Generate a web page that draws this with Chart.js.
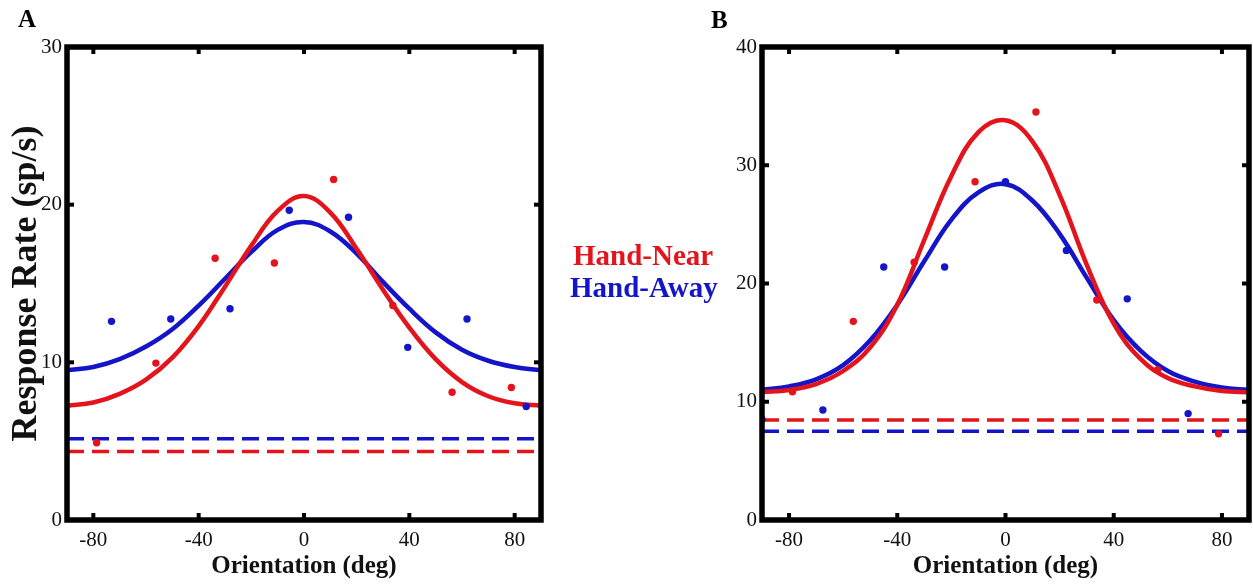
<!DOCTYPE html>
<html>
<head>
<meta charset="utf-8">
<title>Orientation tuning</title>
<script src="https://cdn.jsdelivr.net/npm/chart.js@4.4.1/dist/chart.umd.min.js"></script>
<style>
  body { margin: 0; background: #fff; }
  #wrap { position: relative; width: 1253px; height: 586px; overflow: hidden; }
  canvas { position: absolute; top: 0; }
  #chartA { left: 0; }
  #chartB { left: 700px; }
  .lbl { position: absolute; font-family: "Liberation Serif", "DejaVu Serif", serif; font-weight: bold; white-space: nowrap; line-height: 1; }
</style>
</head>
<body>
<div id="wrap">
  <canvas id="chartA" width="560" height="586"></canvas>
  <canvas id="chartB" width="553" height="586"></canvas>
  <div class="lbl" style="left:18px;top:6px;font-size:25px">A</div>
  <div class="lbl" style="left:711px;top:7px;font-size:25px">B</div>
  <div class="lbl" style="left:573px;top:241px;font-size:29px;color:#e3141b">Hand-Near</div>
  <div class="lbl" style="left:570px;top:273px;font-size:29px;color:#1414c8">Hand-Away</div>
</div>
<script>
// orientation grid used for the fitted tuning curves
const fitX = [-90, -80, -70, -60, -50, -40, -30, -20, -10, 0, 10, 20, 30, 40, 50, 60, 70, 80, 90];

// panel A
const nearFitA = [7.25, 7.45, 8.0, 8.9, 10.3, 12.3, 14.8, 17.4, 19.6, 20.55, 19.5, 17.2, 14.6, 12.2, 10.2, 8.75, 7.85, 7.4, 7.25];
const awayFitA = [9.5, 9.7, 10.2, 11.0, 12.1, 13.6, 15.3, 17.0, 18.4, 18.9, 18.3, 16.9, 15.1, 13.4, 11.9, 10.8, 10.1, 9.7, 9.5];
const nearOriA = [-78.75, -56.25, -33.75, -11.25, 11.25, 33.75, 56.25, 78.75];
const nearRateA = [4.9, 9.95, 16.6, 16.3, 21.6, 13.6, 8.1, 8.4];
const awayOriA = [-73.1, -50.6, -28.1, -5.6, 16.9, 39.4, 61.9, 84.4];
const awayRateA = [12.6, 12.75, 13.4, 19.65, 19.2, 10.95, 12.75, 7.2];
const nearBaseA = 4.35;
const awayBaseA = 5.15;

// panel B
const nearFitB = [10.8, 11.0, 11.5, 12.6, 14.6, 18.2, 23.7, 29.1, 32.8, 33.8, 32.0, 27.5, 21.6, 16.6, 13.6, 12.0, 11.3, 10.9, 10.8];
const awayFitB = [11.0, 11.3, 11.9, 13.1, 15.2, 18.2, 21.9, 25.4, 27.7, 28.4, 27.0, 24.2, 20.5, 16.9, 14.3, 12.6, 11.7, 11.2, 11.0];
const nearOriB = [-78.75, -56.25, -33.75, -11.25, 11.25, 33.75, 56.25, 78.75];
const nearRateB = [10.85, 16.8, 21.8, 28.6, 34.5, 18.6, 12.7, 7.3];
const awayOriB = [-90, -67.5, -45, -22.5, 0, 22.5, 45, 67.5];
const awayRateB = [8.5, 9.3, 21.4, 21.4, 28.6, 22.8, 18.7, 9.0];
const nearBaseB = 8.45;
const awayBaseB = 7.5;

const xTicks = [-80, -40, 0, 40, 80];
const yTicksA = [0, 10, 20, 30];
const yTicksB = [0, 10, 20, 30, 40];

const RED = '#e3141b';
const BLUE = '#1414c8';
const serif = '"Liberation Serif", "DejaVu Serif", serif';

function pairs(xs, ys) {
  return xs.map((x, i) => ({ x: x, y: ys[i] }));
}

// thick black box with short inward ticks on all four sides
const frame = {
  id: 'frame',
  afterDatasetsDraw(chart) {
    const { ctx, chartArea: a, scales } = chart;
    ctx.save();
    ctx.strokeStyle = '#000';
    ctx.lineWidth = 5.5;
    ctx.strokeRect(a.left, a.top, a.right - a.left, a.bottom - a.top);
    ctx.fillStyle = '#000';
    scales.x.ticks.forEach(t => {
      const px = scales.x.getPixelForValue(t.value);
      ctx.fillRect(px - 2, a.bottom - 7, 4, 5);
      ctx.fillRect(px - 2, a.top + 2, 4, 5);
    });
    scales.y.ticks.forEach(t => {
      const py = scales.y.getPixelForValue(t.value);
      ctx.fillRect(a.left + 2, py - 2, 5, 4);
      ctx.fillRect(a.right - 7, py - 2, 5, 4);
    });
    ctx.restore();
  }
};

function makePanel(id, p) {
  const curve = { type: 'line', borderWidth: 4.5, pointRadius: 0, tension: 0.4 };
  const dashed = { type: 'line', borderWidth: 3.5, borderDash: [17, 8], pointRadius: 0, order: 3 };
  const datasets = [
    { type: 'scatter', data: pairs(p.nearOri, p.nearRate), backgroundColor: RED, borderWidth: 0, pointRadius: 3.7, order: 0 },
    { type: 'scatter', data: pairs(p.awayOri, p.awayRate), backgroundColor: BLUE, borderWidth: 0, pointRadius: 3.7, order: 0 },
    Object.assign({}, curve, { data: pairs(fitX, p.nearFit), borderColor: RED, order: 1 }),
    Object.assign({}, curve, { data: pairs(fitX, p.awayFit), borderColor: BLUE, order: 2 }),
    Object.assign({}, dashed, { data: pairs([-90, 90], [p.nearBase, p.nearBase]), borderColor: RED }),
    Object.assign({}, dashed, { data: pairs([-90, 90], [p.awayBase, p.awayBase]), borderColor: BLUE })
  ];

  return new Chart(document.getElementById(id), {
    type: 'line',
    data: { datasets: datasets },
    options: {
      responsive: false,
      animation: false,
      devicePixelRatio: 1,
      layout: { padding: { top: 47, right: p.padRight, left: 0, bottom: 0 } },
      plugins: { legend: { display: false }, tooltip: { enabled: false } },
      scales: {
        x: {
          type: 'linear',
          min: -90,
          max: 90,
          afterBuildTicks: s => { s.ticks = xTicks.map(v => ({ value: v })); },
          afterFit: s => { s.height = 66; },
          grid: { display: false, drawTicks: false },
          border: { display: false },
          ticks: { color: '#111', padding: 8, font: { family: serif, size: 21 } },
          title: {
            display: true,
            text: 'Orientation (deg)',
            color: '#111',
            padding: { top: 0, bottom: 4 },
            font: { family: serif, size: 25, weight: 'bold' }
          }
        },
        y: {
          min: 0,
          max: p.yMax,
          afterBuildTicks: s => { s.ticks = p.yTicks.map(v => ({ value: v })); },
          afterFit: s => { s.width = p.yWidth; },
          grid: { display: false, drawTicks: false },
          border: { display: false },
          ticks: { color: '#111', padding: 5, font: { family: serif, size: 21 } },
          title: {
            display: p.yTitle !== '',
            text: p.yTitle,
            color: '#111',
            padding: { top: 5, bottom: 0 },
            font: { family: serif, size: 36, weight: 'bold' }
          }
        }
      }
    },
    plugins: [frame]
  });
}

makePanel('chartA', {
  nearFit: nearFitA, awayFit: awayFitA,
  nearOri: nearOriA, nearRate: nearRateA,
  awayOri: awayOriA, awayRate: awayRateA,
  nearBase: nearBaseA, awayBase: awayBaseA,
  yMax: 30, yTicks: yTicksA, yWidth: 67, padRight: 19,
  yTitle: 'Response Rate (sp/s)'
});

makePanel('chartB', {
  nearFit: nearFitB, awayFit: awayFitB,
  nearOri: nearOriB, nearRate: nearRateB,
  awayOri: awayOriB, awayRate: awayRateB,
  nearBase: nearBaseB, awayBase: awayBaseB,
  yMax: 40, yTicks: yTicksB, yWidth: 62, padRight: 2,
  yTitle: ''
});
</script>
</body>
</html>
